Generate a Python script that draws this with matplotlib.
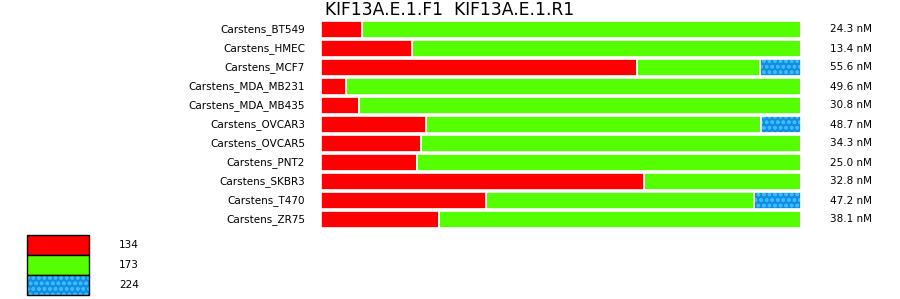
import matplotlib
matplotlib.use("Agg")
import matplotlib.pyplot as plt
from matplotlib.patches import Rectangle

samples = ["Carstens_BT549", "Carstens_HMEC", "Carstens_MCF7", "Carstens_MDA_MB231",
           "Carstens_MDA_MB435", "Carstens_OVCAR3", "Carstens_OVCAR5", "Carstens_PNT2",
           "Carstens_SKBR3", "Carstens_T470", "Carstens_ZR75"]
conc = ["24.3 nM", "13.4 nM", "55.6 nM", "49.6 nM", "30.8 nM", "48.7 nM",
        "34.3 nM", "25.0 nM", "32.8 nM", "47.2 nM", "38.1 nM"]
# percent of each peak
p134 = [8.6, 19.0, 65.8, 5.2, 7.9, 21.9, 20.8, 20.0, 67.3, 34.4, 24.6]
p173 = [91.4, 81.0, 25.7, 94.8, 92.1, 69.8, 79.2, 80.0, 32.7, 55.8, 75.4]
p224 = [0, 0, 8.5, 0, 0, 8.3, 0, 0, 0, 9.8, 0]
peaks = ["134", "173", "224"]
title = "KIF13A.E.1.F1  KIF13A.E.1.R1"

RED = "#ff0000"
GREEN = "#55ff00"
BLUE = "#0f8fe0"
DOT = "#40b8ff"

W, H = 900, 299
fig = plt.figure(figsize=(W / 100, H / 100), dpi=100)
ax = fig.add_axes([321 / W, 1 - 229 / H, 480 / W, 209 / H])

y = list(range(len(samples)))
left2 = [a + b for a, b in zip(p134, p173)]
ax.barh(y, p134, height=0.9, color=RED, edgecolor="white", linewidth=1.2)
ax.barh(y, p173, left=p134, height=0.9, color=GREEN, edgecolor="white", linewidth=1.2)
ax.barh(y, p224, left=left2, height=0.9, color=BLUE, edgecolor=DOT, linewidth=0, hatch="ooo")
ax.barh(y, p224, left=left2, height=0.9, fill=False, edgecolor="white", linewidth=1.2)

ax.set_xlim(0, 100)
ax.set_ylim(len(samples) - 0.5, -0.5)
ax.axis("off")

for i, (s, c) in enumerate(zip(samples, conc)):
    ax.text(-16 / 4.8, i, s, ha="right", va="center", fontsize=7.5)
    ax.text(100 + 29 / 4.8, i, c, ha="left", va="center", fontsize=7.5)

fig.text(325 / W, 1 - 10 / H, title, ha="left", va="center", fontsize=12.3)

# legend
lg = fig.add_axes([0, 0, 1, 1])
lg.set_xlim(0, W)
lg.set_ylim(H, 0)
lg.axis("off")
cols = [RED, GREEN, BLUE]
for k, (name, col) in enumerate(zip(peaks, cols)):
    y0 = 235 + k * 20
    if k == 2:
        lg.add_patch(Rectangle((27, y0), 62, 20, facecolor=col, edgecolor=DOT, linewidth=0, hatch="ooo"))
        lg.add_patch(Rectangle((27, y0), 62, 20, fill=False, edgecolor="black", linewidth=1))
    else:
        lg.add_patch(Rectangle((27, y0), 62, 20, facecolor=col, edgecolor="black", linewidth=1))
    lg.text(119, y0 + 10, name, ha="left", va="center", fontsize=7.5)

fig.savefig("out.png", dpi=100)
